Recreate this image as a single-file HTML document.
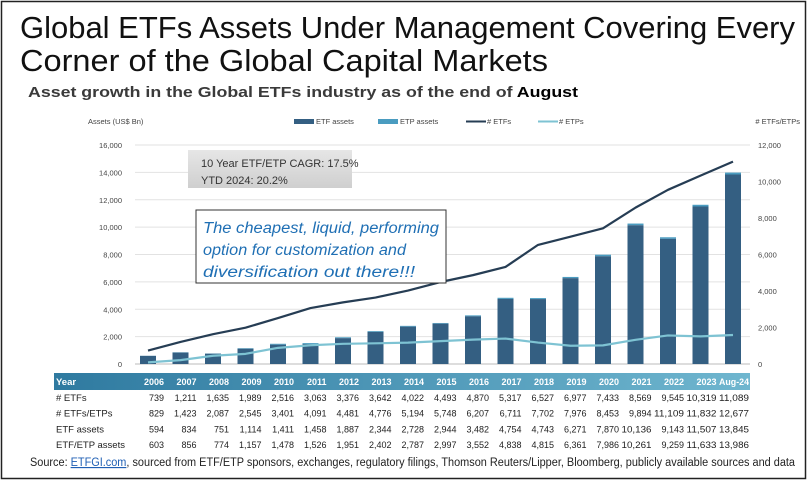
<!DOCTYPE html>
<html><head><meta charset="utf-8"><style>
html,body{margin:0;padding:0;background:#fff;}
svg{display:block;font-family:"Liberation Sans",sans-serif;}
</style></head><body>
<svg id="c" width="808" height="483" viewBox="0 0 808 483" xmlns="http://www.w3.org/2000/svg">
<defs>
<linearGradient id="hdr" x1="0" x2="1" y1="0" y2="0"><stop offset="0" stop-color="#2f7aa0"/><stop offset="1" stop-color="#6fb6cf"/></linearGradient>
<linearGradient id="gbox" x1="0" x2="0" y1="0" y2="1"><stop offset="0" stop-color="#e6e6e6"/><stop offset="1" stop-color="#cfcfcf"/></linearGradient>
</defs>
<rect x="1.5" y="1.5" width="804" height="477" fill="#fff" stroke="#222" stroke-width="1.5"/>
<text x="20" y="38" font-size="31" fill="#111" textLength="775" lengthAdjust="spacingAndGlyphs">Global ETFs Assets Under Management Covering Every</text>
<text x="20" y="71" font-size="31" fill="#111" textLength="528" lengthAdjust="spacingAndGlyphs">Corner of the Global Capital Markets</text>
<text x="28" y="97" font-size="15" font-weight="bold" fill="#3a3a3a" textLength="550" lengthAdjust="spacingAndGlyphs">Asset growth in the Global ETFs industry as of the end of <tspan fill="#000">August</tspan></text>
<text x="88" y="124" font-size="7.5" fill="#444">Assets (US$ Bn)</text>
<text x="800" y="124" font-size="7.5" fill="#444" text-anchor="end"># ETFs/ETPs</text>
<g>
<rect x="294" y="119" width="20" height="5" fill="#345f82"/>
<text x="316" y="124" font-size="7.5" fill="#444">ETF assets</text>
<rect x="378" y="119" width="20" height="5" fill="#4a9cc0"/>
<text x="400" y="124" font-size="7.5" fill="#444">ETP assets</text>
<line x1="466" y1="121.5" x2="486" y2="121.5" stroke="#263d54" stroke-width="2"/>
<text x="487" y="124" font-size="7.5" fill="#444"># ETFs</text>
<line x1="538" y1="121.5" x2="558" y2="121.5" stroke="#7ec3d3" stroke-width="2"/>
<text x="559" y="124" font-size="7.5" fill="#444"># ETPs</text>
</g>
<g id="grid"></g><g id="bars"></g><g id="lines"></g>
<rect x="188" y="150" width="164" height="38" fill="url(#gbox)"/>
<text x="201" y="167" font-size="11" fill="#333">10 Year ETF/ETP CAGR: 17.5%</text>
<text x="201" y="184" font-size="11" fill="#333">YTD 2024: 20.2%</text>
<rect x="196" y="210" width="250" height="73" fill="#fff" stroke="#333" stroke-width="1"/>
<g font-size="15.5" font-style="italic" fill="#1f6fb4">
<text x="203" y="233" textLength="236" lengthAdjust="spacingAndGlyphs">The cheapest, liquid, performing</text>
<text x="203" y="255" textLength="203" lengthAdjust="spacingAndGlyphs">option for customization and</text>
<text x="203" y="277" textLength="212" lengthAdjust="spacingAndGlyphs">diversification out there!!!</text>
</g>
<rect x="54" y="373" width="696" height="17" fill="url(#hdr)"/>
<g id="table"></g>
<text x="30" y="466" font-size="11.5" fill="#222" textLength="765" lengthAdjust="spacingAndGlyphs">Source: <tspan fill="#1f5fb4" text-decoration="underline">ETFGI.com</tspan>, sourced from ETF/ETP sponsors, exchanges, regulatory filings, Thomson Reuters/Lipper, Bloomberg, publicly available sources and data</text>
</svg>
<script>
const years = ["2006","2007","2008","2009","2010","2011","2012","2013","2014","2015","2016","2017","2018","2019","2020","2021","2022","2023","Aug-24"];
const numEtfs = [739,1211,1635,1989,2516,3063,3376,3642,4022,4493,4870,5317,6527,6977,7433,8569,9545,10319,11089];
const numEtfsEtps = [829,1423,2087,2545,3401,4091,4481,4776,5194,5748,6207,6711,7702,7976,8453,9894,11109,11832,12677];
const etfAssets = [594,834,751,1114,1411,1458,1887,2344,2728,2944,3482,4754,4743,6271,7870,10136,9143,11507,13845];
const etfEtpAssets = [603,856,774,1157,1478,1526,1951,2402,2787,2997,3552,4838,4815,6361,7986,10261,9259,11633,13986];
const leftTicks = [0,2000,4000,6000,8000,10000,12000,14000,16000];
const rightTicks = [0,2000,4000,6000,8000,10000,12000];

const NS="http://www.w3.org/2000/svg";
const x0=148, dx=(733-148)/18, yBase=364, yTop=145;
const xPos=i=>x0+i*dx;
const yL=v=>yBase-(v/16000)*(yBase-yTop);
const yR=v=>yBase-(v/12000)*(yBase-yTop);
const fmt=v=>v.toLocaleString("en-US");
function mk(tag,attrs,parent){const e=document.createElementNS(NS,tag);for(const k in attrs)e.setAttribute(k,attrs[k]);parent.appendChild(e);return e;}

const grid=document.getElementById("grid");
leftTicks.forEach(t=>{
  const l=mk("line",{x1:135,x2:750,y1:yL(t),y2:yL(t),stroke:t===0?"#bbb":"#e2e2e2","stroke-width":1},grid);
  
  
  const tx=mk("text",{x:122,y:yL(t)+3,"font-size":7.5,fill:"#444","text-anchor":"end"},grid);
  tx.textContent=fmt(t);
  
  
});
rightTicks.forEach(t=>{
  const tx=mk("text",{x:758,y:yR(t)+3,"font-size":7.5,fill:"#444"},grid);
  tx.textContent=fmt(t);
  
  
});

const bars=document.getElementById("bars");
const bw=16;
years.forEach((y,i)=>{
  const cx=xPos(i);
  const etp=mk("rect",{x:cx-bw/2,y:yL(etfEtpAssets[i]),width:bw,height:yL(etfAssets[i])-yL(etfEtpAssets[i]),fill:"#4a9cc0"},bars);
  
  
  const etf=mk("rect",{x:cx-bw/2,y:yL(etfAssets[i]),width:bw,height:yBase-yL(etfAssets[i]),fill:"#345f82"},bars);
  
  
});

const lines=document.getElementById("lines");
const pEtfs=numEtfs.map((v,i)=>xPos(i)+","+yR(v)).join(" ");
const l1=mk("polyline",{points:pEtfs,fill:"none",stroke:"#263d54","stroke-width":2.2,"stroke-linejoin":"round"},lines);


const pEtps=numEtfsEtps.map((v,i)=>xPos(i)+","+yR(v-numEtfs[i])).join(" ");
const l2=mk("polyline",{points:pEtps,fill:"none",stroke:"#7ec3d3","stroke-width":2.2,"stroke-linejoin":"round"},lines);



const table=document.getElementById("table");
const rows=[["# ETFs",numEtfs],["# ETFs/ETPs",numEtfsEtps],["ETF assets",etfAssets],["ETF/ETP assets",etfEtpAssets]];
const hl=mk("text",{x:56,y:385,"font-size":9.5,"font-weight":"bold",fill:"#fff"},table);
hl.textContent="Year";


years.forEach((y,i)=>{
  const t=mk("text",{x:xPos(i)+16,y:385,"font-size":9,"font-weight":"bold",fill:"#fff","text-anchor":"end"},table);
  t.textContent=y;
  if(y.length>4){t.setAttribute("textLength","30");t.setAttribute("lengthAdjust","spacingAndGlyphs");}
  
  
});
rows.forEach((r,ri)=>{
  const yy=401+ri*15.7;
  const lab=mk("text",{x:56,y:yy,"font-size":9.5,fill:"#222"},table);
  lab.textContent=r[0];
  
  
  r[1].forEach((v,i)=>{
    const t=mk("text",{x:xPos(i)+16,y:yy,"font-size":9,fill:"#222","text-anchor":"end"},table);
    t.textContent=fmt(v);
    if(v>=10000){t.setAttribute("textLength","30");t.setAttribute("lengthAdjust","spacingAndGlyphs");}
    
    
  });
});
</script>
</body></html>
